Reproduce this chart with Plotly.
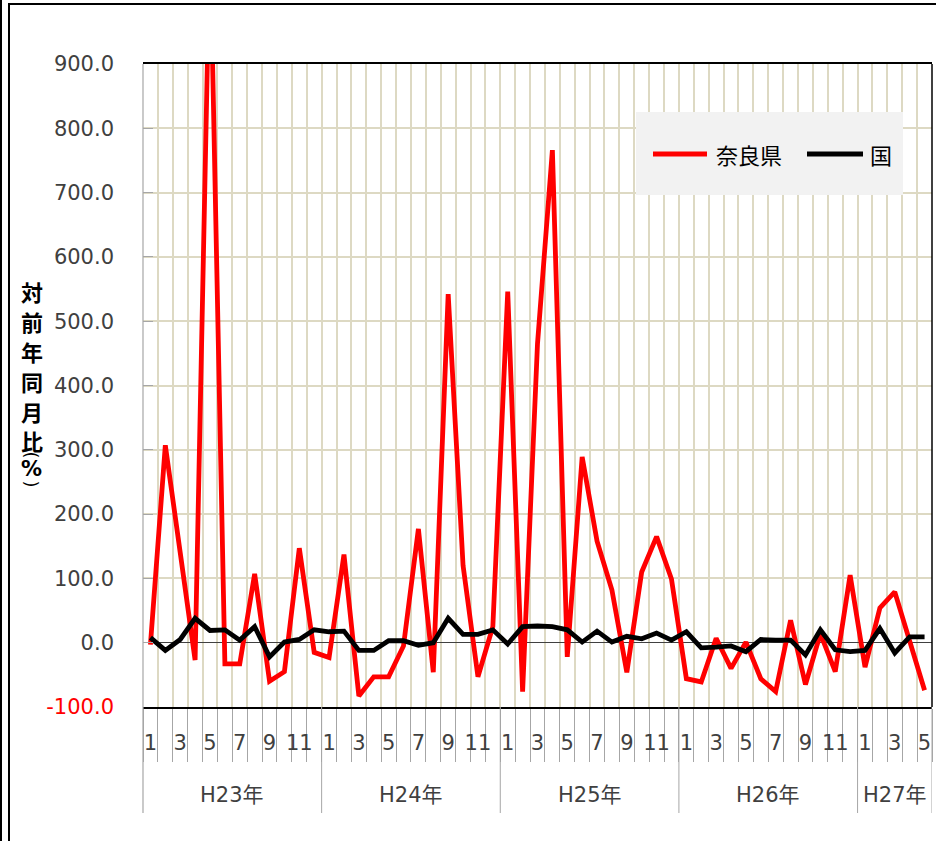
import plotly.graph_objects as go

# ---------------- data ----------------
years = ["H23年", "H24年", "H25年", "H26年", "H27年"]
months_in_year = [12, 12, 12, 12, 5]

nara = [-3, 307, 140, -27, 1100, -33, -33, 107, -60, -45, 147, -15,
        -23, 137, -83, -53, -53, -5, 177, -46, 542, 120, -53, 25,
        546, -76, 465, 766, -22, 289, 158, 82, -46, 110, 165, 99,
        -56, -61, 7, -40, 1, -56, -76, 35, -65, 14, -45, 105,
        -38, 54, 79, 0, -74]
kuni = [8, -12, 5, 38, 19, 20, 4, 25, -22, 1, 5, 20,
        17, 18, -12, -12, 3, 3, -4, 0, 38, 13, 13, 20,
        -2, 25, 26, 25, 20, 1, 18, 1, 10, 6, 15, 4,
        17, -8, -7, -5, -14, 5, 4, 4, -19, 20, -11, -14,
        -12, 22, -16, 9, 9]

series_names = ["奈良県", "国"]
series_colors = ["#FF0000", "#000000"]
y_ticks = [-100, 0, 100, 200, 300, 400, 500, 600, 700, 800, 900]
y_title_main = ["対", "前", "年", "同", "月", "比"]
y_title_unit = ["(", "%", ")"]

# ---------------- derived ----------------
month_nums = []
for n in months_in_year:
    month_nums += list(range(1, n + 1))
xidx = list(range(len(month_nums)))

W, H = 936, 841
L, R, T, B = 143, 4, 64, 134
PW, PH = W - L - R, H - T - B


def px(x):
    return (x - L) / PW


def py(y):
    return (H - B - y) / PH


TXT = "#404040"
FONT = "DejaVu Sans, Noto Sans CJK JP"
GRID = "#DDD9C3"
AXG = "#A6A6A6"

fig = go.Figure()
fig.add_trace(go.Scatter(x=xidx, y=nara, mode="lines", name=series_names[0],
                         line=dict(color=series_colors[0], width=4.8)))
fig.add_trace(go.Scatter(x=xidx, y=kuni, mode="lines", name=series_names[1],
                         line=dict(color=series_colors[1], width=4.8)))

ticktext_y = []
for v in y_ticks:
    s = f"{v:.1f}"
    ticktext_y.append(f"<span style='color:#FF0000'>{s}</span>" if v < 0 else s)

odd_vals = [i for i, m in zip(xidx, month_nums) if m % 2 == 1]
odd_text = [str(m) for m in month_nums if m % 2 == 1]

fig.update_layout(
    width=W, height=H,
    margin=dict(l=L, r=R, t=T, b=B, pad=0),
    paper_bgcolor="white", plot_bgcolor="white",
    showlegend=False,
    font=dict(family=FONT, color=TXT),
    xaxis=dict(
        range=[-0.5, len(xidx) - 0.5],
        tickmode="array", tickvals=odd_vals, ticktext=odd_text,
        ticks="", showgrid=False, zeroline=False,
        tickfont=dict(size=21, color=TXT, family=FONT),
        ticklabelstandoff=16,
        showline=True, linecolor="black", linewidth=1.5, mirror=True,
        minor=dict(tick0=-0.5, dtick=1, ticks="outside", ticklen=53,
                   tickcolor=AXG, tickwidth=1, showgrid=True,
                   gridcolor=GRID, gridwidth=1.5),
    ),
    yaxis=dict(
        range=[-100, 900],
        tickmode="array", tickvals=y_ticks, ticktext=ticktext_y,
        ticks="inside", ticklen=10, tickcolor=AXG, tickwidth=1,
        showgrid=True, gridcolor=GRID, gridwidth=1.5,
        zeroline=True, zerolinecolor="#404040", zerolinewidth=1.2,
        tickfont=dict(size=21, color=TXT, family=FONT),
        ticklabelstandoff=28,
        showline=False,
    ),
)

shapes = []
shapes.append(dict(type="line", xref="paper", yref="paper", x0=0, x1=0,
                   y0=py(813), y1=1, line=dict(color=AXG, width=1.2)))
shapes.append(dict(type="line", xref="paper", yref="paper", x0=1, x1=1,
                   y0=0, y1=1, line=dict(color="black", width=1.5)))
b = -0.5
bounds = [b]
for n in months_in_year:
    b += n
    bounds.append(b)
for bx in bounds[1:]:
    shapes.append(dict(type="line", xref="x", yref="paper", x0=bx, x1=bx,
                       y0=py(813), y1=0, line=dict(color=AXG, width=1)))
# outer chart frame
shapes.append(dict(type="rect", xref="paper", yref="paper",
                   x0=px(9), x1=px(960), y0=py(4), y1=py(870),
                   line=dict(color="black", width=2)))
shapes.append(dict(type="line", xref="paper", yref="paper",
                   x0=px(1), x1=px(1), y0=py(-5), y1=py(850),
                   line=dict(color="black", width=2)))
# legend box
shapes.append(dict(type="rect", xref="paper", yref="paper",
                   x0=px(636), x1=px(903), y0=py(112), y1=py(195),
                   fillcolor="#F2F2F2", line=dict(width=0), layer="above"))
leg_line_x = [(653, 707), (807, 863)]
for (a, c), col in zip(leg_line_x, series_colors):
    shapes.append(dict(type="line", xref="paper", yref="paper",
                       x0=px(a), x1=px(c), y0=py(154), y1=py(154),
                       line=dict(color=col, width=4.8), layer="above"))
fig.update_layout(shapes=shapes)

ann = []
for yname, lo, hi in zip(years, bounds[:-1], bounds[1:]):
    ann.append(dict(x=(lo + hi) / 2, y=py(795), xref="x", yref="paper",
                    text=yname, showarrow=False,
                    font=dict(size=21, color=TXT, family=FONT),
                    xanchor="center", yanchor="middle"))
for name, x0 in zip(series_names, [714, 868]):
    ann.append(dict(x=px(x0), y=py(154), xref="paper", yref="paper",
                    text=name, showarrow=False, xanchor="left", yanchor="middle",
                    font=dict(size=22, color="black", family="Noto Sans CJK JP")))
# vertical y-axis title
title_y = [291, 321, 351, 381, 411, 440]
for ch, yy in zip(y_title_main, title_y):
    ann.append(dict(x=px(31.5), y=py(yy), xref="paper", yref="paper",
                    text=f"<b>{ch}</b>", showarrow=False,
                    xanchor="center", yanchor="middle",
                    font=dict(size=22, color="black", family="Noto Sans CJK JP")))
unit_y = [455, 469, 484]
unit_angle = [90, 0, 90]
unit_size = [18, 21, 18]
for ch, yy, ang, sz in zip(y_title_unit, unit_y, unit_angle, unit_size):
    ann.append(dict(x=px(31.5), y=py(yy), xref="paper", yref="paper",
                    text=f"<b>{ch}</b>" if ch == "%" else ch, showarrow=False,
                    textangle=ang, xanchor="center", yanchor="middle",
                    font=dict(size=sz, color="black", family="DejaVu Sans")))
fig.update_layout(annotations=ann)

fig.write_html("out.html", config={"displayModeBar": False},
               post_script="document.body.style.margin='0';document.body.style.overflow='hidden';")
